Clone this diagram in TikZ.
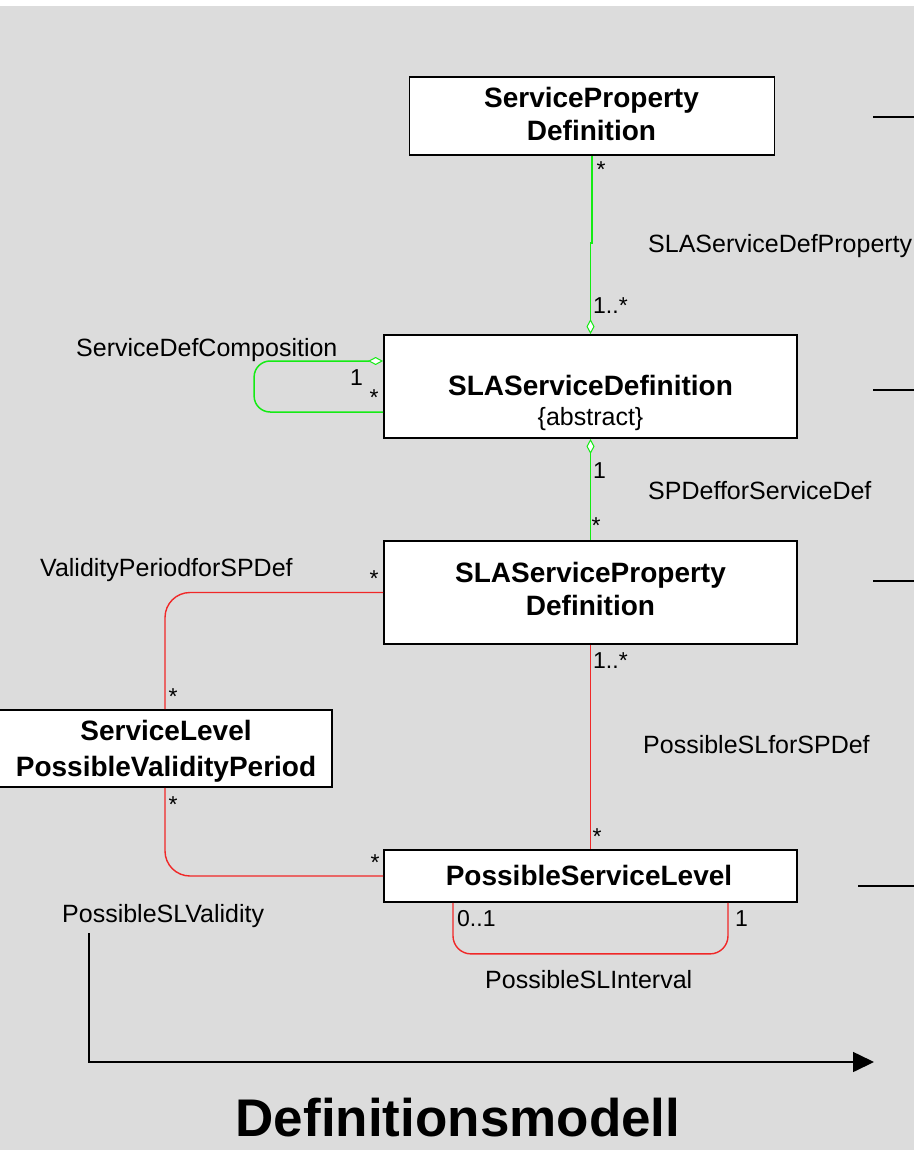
\documentclass[tikz,border=0pt]{standalone}
\usepackage{fontspec}
\setmainfont{Liberation Sans}
\usetikzlibrary{arrows.meta,calc}
\definecolor{bggray}{RGB}{220,220,220}
\definecolor{assocgreen}{RGB}{20,235,20}
\definecolor{assocred}{RGB}{240,40,40}
\tikzset{
  agg/.tip={Diamond[length=15pt,width=8pt,fill=white,line width=1pt]},
  umlbox/.style={draw=black, line width=1.8pt, fill=white, inner sep=0pt},
  clsname/.style={font=\bfseries\fontsize{28}{33}\selectfont, inner sep=0pt, anchor=base},
  clsnote/.style={font=\fontsize{25}{30}\selectfont, inner sep=0pt, anchor=base},
  assoc/.style={font=\fontsize{25}{30}\selectfont, inner sep=0pt, anchor=base west},
  mult/.style={font=\fontsize{23}{27}\selectfont, inner sep=0pt, anchor=base west},
  star/.style={font=\fontsize{23}{27}\selectfont, inner sep=0pt, anchor=base},
  gline/.style={draw=assocgreen, line width=1.5pt},
  rline/.style={draw=assocred, line width=1.4pt},
  stub/.style={draw=black, line width=1.4pt},
}
\begin{document}
\begin{tikzpicture}[x=1pt,y=-1pt]
% canvas
\useasboundingbox (0,0) rectangle (914,1150);
\fill[white] (0,0) rectangle (914,6);
\fill[bggray] (0,6) rectangle (914,1150);

% classes
\node[umlbox, minimum width=365pt, minimum height=78pt] (spd) at (592,116) {};
\node[clsname] (spdA) at (591.5,108) {ServiceProperty};
\node[clsname] (spdB) at (591.5,141) {Definition};

\node[umlbox, minimum width=413pt, minimum height=103pt] (sla) at (590.5,386.5) {};
\node[clsname] (slaA) at (590.5,395) {SLAServiceDefinition};
\node[clsnote] (slaB) at (590.5,425) {\{abstract\}};

\node[umlbox, minimum width=413pt, minimum height=103pt] (slap) at (590.5,592.5) {};
\node[clsname] (slapA) at (590.5,582) {SLAServiceProperty};
\node[clsname] (slapB) at (590.5,615) {Definition};

\node[umlbox, minimum width=334pt, minimum height=77pt] (slpv) at (165,748.5) {};
\node[clsname] (slpvA) at (166,740) {ServiceLevel};
\node[clsname] (slpvB) at (166,776) {PossibleValidityPeriod};

\node[umlbox, minimum width=413pt, minimum height=52pt] (psl) at (590.5,876) {};
\node[clsname] (pslA) at (589,885) {PossibleServiceLevel};

% green associations (aggregations)
\draw[gline, {agg}-] (sla.north) -- ++(0,-91) -| (spd.south);
\draw[gline, rounded corners=16pt, {agg}-] ($(sla.west)+(0,-25.5)$) -- ++(-129,0) -- ++(0,51) -- ($(sla.west)+(0,25.5)$);
\draw[gline, {agg}-] (sla.south) -- (slap.north);

% red associations
\draw[rline, rounded corners=25pt] (slap.west) -| (slpv.north);
\draw[rline, rounded corners=25pt] (slpv.south) |- (psl.west);
\draw[rline] (slap.south) -- (psl.north);
\draw[rline, rounded corners=18pt] ($(psl.south)+(-137.5,0)$) -- ++(0,51) -- ++(275,0) -- ++(0,-51);

% association names
\node[assoc] (nSDP) at (648,253) {SLAServiceDefProperty};
\node[assoc] (nSDC) at (76,356) {ServiceDefComposition};
\node[assoc] (nSPD) at (648,499) {SPDefforServiceDef};
\node[assoc] (nVPS) at (40,576) {ValidityPeriodforSPDef};
\node[assoc] (nPSS) at (643,753) {PossibleSLforSPDef};
\node[assoc] (nPSV) at (62,922) {PossibleSLValidity};
\node[assoc] (nPSI) at (485,988) {PossibleSLInterval};

% multiplicities
\node[star] (m1) at (601,178) {*};
\node[mult] (m2) at (593,313) {1..*};
\node[mult] (m3) at (350,385) {1};
\node[star] (m4) at (374,405) {*};
\node[mult] (m5) at (593,478) {1};
\node[star] (m6) at (596,533) {*};
\node[star] (m7) at (374,586) {*};
\node[mult] (m8) at (593,668) {1..*};
\node[star] (m9) at (173,704) {*};
\node[star] (m10) at (173,812) {*};
\node[star] (m11) at (597,844) {*};
\node[star] (m12) at (375,870) {*};
\node[mult] (m13) at (457,926) {0..1};
\node[mult] (m14) at (735,926) {1};

% links leaving to the right
\coordinate (s1a) at (873,117); \coordinate (s1b) at (914,117);
\coordinate (s2a) at (873,390); \coordinate (s2b) at (914,390);
\coordinate (s3a) at (873,581); \coordinate (s3b) at (914,581);
\coordinate (s4a) at (858,886); \coordinate (s4b) at (914,886);
\draw[stub] (s1a) -- (s1b);
\draw[stub] (s2a) -- (s2b);
\draw[stub] (s3a) -- (s3b);
\draw[stub] (s4a) -- (s4b);

% model arrow and caption
\coordinate (arrA) at (89,933);
\coordinate (arrB) at (874,1062);
\draw[black, line width=1.6pt, -{Triangle[length=21pt,width=20pt]}] (arrA) |- (arrB);
\node[font=\bfseries\fontsize{53}{60}\selectfont, inner sep=0pt, anchor=base] (title) at (458,1136) {Definitionsmodell};
\end{tikzpicture}
\end{document}
